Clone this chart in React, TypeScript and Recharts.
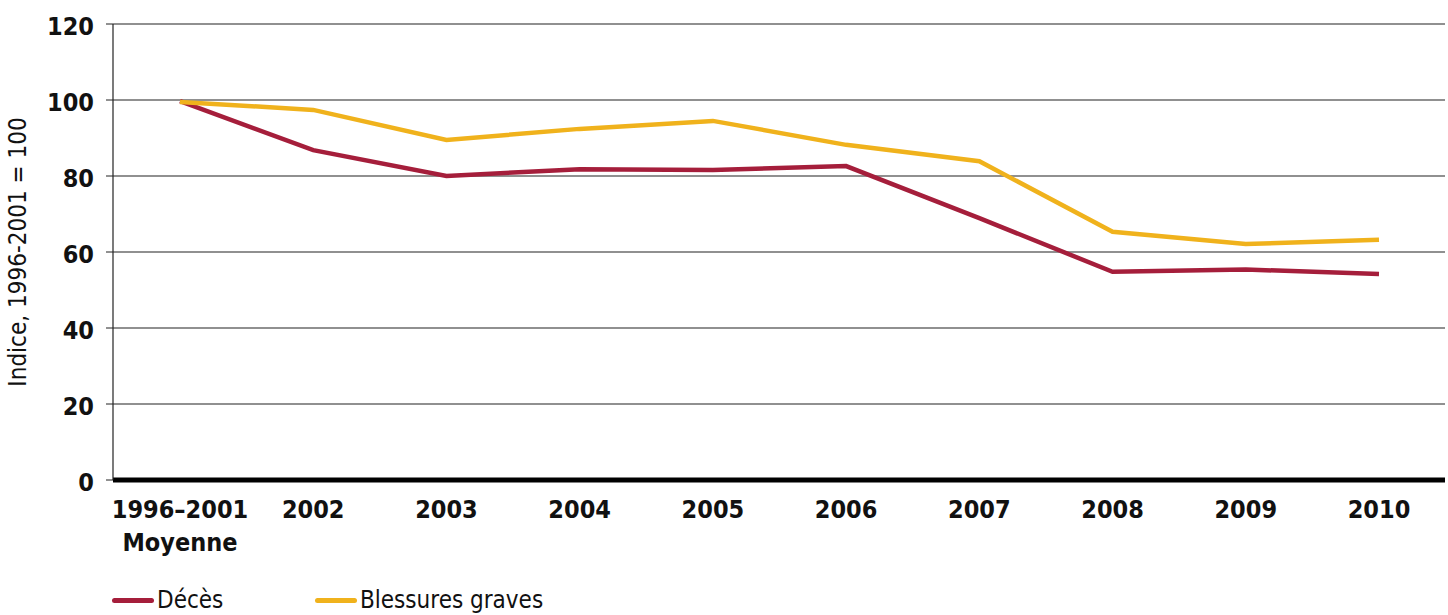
import { CartesianGrid, Legend, Line, LineChart, XAxis, YAxis } from "recharts";

const categories = ["1996–2001\nMoyenne", "2002", "2003", "2004", "2005", "2006", "2007", "2008", "2009", "2010"];
const deces = [99.7, 86.8, 80.0, 81.8, 81.6, 82.6, 68.9, 54.8, 55.4, 54.2];
const blessures = [99.5, 97.4, 89.5, 92.4, 94.5, 88.2, 83.9, 65.3, 62.1, 63.2];
const yTicks = [0, 20, 40, 60, 80, 100, 120];

const FONT = '"Liberation Sans Narrow", "DejaVu Sans Condensed", "Arial Narrow", "Liberation Sans", sans-serif';
const RED = "#a51e3b";
const YELLOW = "#f0b21c";

const data = categories.map((c, i) => ({ cat: c, deces: deces[i], blessures: blessures[i] }));

const XTick = ({ x, y, payload }: any) => {
  const lines = String(payload.value).split("\n");
  return (
    <text x={x} y={y} textAnchor="middle" fontFamily={FONT} fontWeight="bold" fontSize={25} fill="#111">
      {lines.map((l, i) => (
        <tspan key={i} x={x} dy={i === 0 ? 30 : 33}>
          {l}
        </tspan>
      ))}
    </text>
  );
};

const LegendContent = () => (
  <div style={{ display: "flex", fontFamily: FONT, fontSize: 24, color: "#111" }}>
    {[
      { name: "Décès", color: RED, w: 203 },
      { name: "Blessures graves", color: YELLOW, w: 300 },
    ].map((it) => (
      <div key={it.name} style={{ display: "flex", alignItems: "center", width: it.w }}>
        <span style={{ display: "inline-block", width: 42, height: 5, borderRadius: 3, background: it.color, marginRight: 3 }} />
        <span>{it.name}</span>
      </div>
    ))}
  </div>
);

export default function App() {
  return (
    <div style={{ position: "absolute", left: 0, top: 0, background: "#fff" }}>
      <LineChart width={1448} height={615} data={data} margin={{ top: 24, right: 3, left: 0, bottom: 55 }}>
        <CartesianGrid vertical={false} stroke="#222" strokeWidth={1.2} />
        <XAxis
          dataKey="cat"
          height={80}
          interval={0}
          padding={{ left: 67, right: 66 }}
          tick={<XTick />}
          tickLine={false}
          axisLine={{ stroke: "#000", strokeWidth: 5 }}
        />
        <YAxis
          width={113}
          domain={[0, 120]}
          ticks={yTicks}
          interval={0}
          tickSize={7}
          tickMargin={12}
          tickLine={{ stroke: "#222" }}
          axisLine={{ stroke: "#222", strokeWidth: 1.2 }}
          tick={{ fontFamily: FONT, fontWeight: "bold", fontSize: 25, fill: "#111", dy: 2 }}
          label={{
            value: "Indice, 1996-2001 = 100",
            angle: -90,
            position: "insideLeft",
            dx: 12,
            dy: 0,
            style: { textAnchor: "middle", fontFamily: FONT, fontSize: 24, fill: "#111" },
          }}
        />
        <Legend
          layout="horizontal"
          verticalAlign="middle"
          align="center"
          content={<LegendContent />}
          wrapperStyle={{ top: 586, left: 112, width: 600, height: 30 }}
        />
        <Line dataKey="deces" name="Décès" stroke={RED} strokeWidth={4.5} dot={false} isAnimationActive={false} />
        <Line dataKey="blessures" name="Blessures graves" stroke={YELLOW} strokeWidth={4.5} dot={false} isAnimationActive={false} />
      </LineChart>
    </div>
  );
}
